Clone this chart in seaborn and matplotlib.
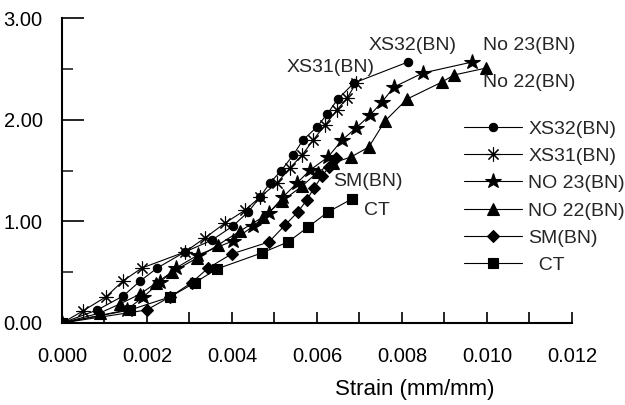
import matplotlib
matplotlib.use("Agg")
import matplotlib.pyplot as plt
import pandas as pd
import seaborn as sns
from matplotlib.ticker import MultipleLocator, FormatStrFormatter

sns.set_theme(style="ticks")
plt.rcParams["font.family"] = ["Liberation Sans", "DejaVu Sans"]

# strain (mm/mm) and stress values
xs32_strain = [0.0, 0.00083, 0.00144, 0.00184, 0.00224, 0.00289, 0.00353, 0.00402, 0.00438,
               0.00466, 0.00489, 0.00515, 0.00544, 0.00567, 0.00600, 0.00624, 0.00649,
               0.00687, 0.00814]
xs32_stress = [0.0, 0.128, 0.266, 0.413, 0.541, 0.698, 0.816, 0.954, 1.092,
               1.239, 1.377, 1.495, 1.652, 1.800, 1.928, 2.056, 2.203,
               2.361, 2.567]

xs31_strain = [0.0, 0.00049, 0.00104, 0.00144, 0.00188, 0.00289, 0.00336, 0.00384, 0.00431,
               0.00466, 0.00506, 0.00536, 0.00565, 0.00591, 0.00619, 0.00647, 0.00671,
               0.00692]
xs31_stress = [0.0, 0.118, 0.259, 0.416, 0.541, 0.698, 0.836, 0.984, 1.111,
               1.239, 1.377, 1.524, 1.652, 1.800, 1.947, 2.095, 2.213,
               2.361]

no23_strain = [0.0, 0.00152, 0.00191, 0.00231, 0.00268, 0.00320, 0.00402, 0.00450, 0.00487,
               0.00520, 0.00553, 0.00584, 0.00626, 0.00659, 0.00692, 0.00725, 0.00753,
               0.00781, 0.00849, 0.00965]
no23_stress = [0.0, 0.128, 0.256, 0.403, 0.541, 0.669, 0.807, 0.954, 1.082,
               1.239, 1.377, 1.505, 1.633, 1.800, 1.918, 2.046, 2.174,
               2.321, 2.459, 2.567]

no22_strain = [0.0, 0.00089, 0.00136, 0.00184, 0.00221, 0.00259, 0.00318, 0.00367, 0.00419,
               0.00473, 0.00518, 0.00565, 0.00602, 0.00638, 0.00680, 0.00722, 0.00760,
               0.00812, 0.00894, 0.00922, 0.00998]
no22_stress = [0.0, 0.098, 0.187, 0.285, 0.393, 0.502, 0.639, 0.767, 0.905,
               1.043, 1.200, 1.347, 1.485, 1.574, 1.633, 1.731, 1.987,
               2.203, 2.370, 2.439, 2.508]

sm_strain = [0.0, 0.00199, 0.00254, 0.00305, 0.00344, 0.00399, 0.00487, 0.00525,
             0.00555, 0.00576, 0.00593, 0.00612, 0.00628, 0.00645]
sm_stress = [0.0, 0.128, 0.256, 0.397, 0.541, 0.679, 0.797, 0.964,
             1.092, 1.210, 1.328, 1.446, 1.534, 1.623]

ct_strain = [0.0, 0.00160, 0.00254, 0.00313, 0.00364, 0.00470, 0.00532, 0.00579, 0.00626,
             0.00682]
ct_stress = [0.0, 0.128, 0.256, 0.397, 0.531, 0.689, 0.797, 0.944, 1.092,
             1.220]

series = [
    ("XS32(BN)", xs32_strain, xs32_stress, "o", 6),
    ("XS31(BN)", xs31_strain, xs31_stress, (8, 2, 0), 10),
    ("NO 23(BN)", no23_strain, no23_stress, "*", 11.5),
    ("NO 22(BN)", no22_strain, no22_stress, "^", 8),
    ("SM(BN)", sm_strain, sm_stress, "D", 6.5),
    ("  CT", ct_strain, ct_stress, "s", 7),
]

fig = plt.figure(figsize=(6.25, 4.05), dpi=100)
ax = fig.add_axes([62 / 625, 1 - 323 / 405, 510 / 625, 305 / 405])

for name, xs, ys, mk, ms in series:
    df = pd.DataFrame({"strain": xs, "stress": ys})
    sns.lineplot(data=df, x="strain", y="stress", ax=ax, sort=False, estimator=None,
                 color="black", linewidth=0.8, marker=mk, markersize=ms,
                 markeredgecolor="black", markerfacecolor="black",
                 markeredgewidth=0.8, label=name)

ax.set_xlim(0, 0.012)
ax.set_ylim(0, 3)
ax.xaxis.set_major_locator(MultipleLocator(0.002))
ax.xaxis.set_minor_locator(MultipleLocator(0.001))
ax.yaxis.set_major_locator(MultipleLocator(1.0))
ax.yaxis.set_minor_locator(MultipleLocator(0.5))
ax.xaxis.set_major_formatter(FormatStrFormatter("%.3f"))
ax.yaxis.set_major_formatter(FormatStrFormatter("%.2f"))
ax.tick_params(axis="x", which="both", direction="in", length=8, width=1.2,
               labelsize=14.5, pad=17, colors="black")
ax.tick_params(axis="y", which="major", direction="in", length=16, width=1.2,
               labelsize=14.5, pad=14, colors="black")
ax.tick_params(axis="y", which="minor", direction="in", length=8, width=1.2)

for s in ["top", "right"]:
    ax.spines[s].set_visible(False)
for s in ["left", "bottom"]:
    ax.spines[s].set_linewidth(1.5)
    ax.spines[s].set_color("black")

ax.set_ylabel("")
ax.set_xlabel("Strain (mm/mm)", fontsize=16, color="black")
ax.xaxis.set_label_coords(0.692, -0.185)

# curve labels
ax.text(0.00826, 2.73, "XS32(BN)", ha="center", va="center", fontsize=14)
ax.text(0.00633, 2.51, "XS31(BN)", ha="center", va="center", fontsize=14)
ax.text(0.00991, 2.73, "No 23(BN)", ha="left", va="center", fontsize=14)
ax.text(0.00991, 2.37, "No 22(BN)", ha="left", va="center", fontsize=14)
ax.text(0.00638, 1.39, "SM(BN)", ha="left", va="center", fontsize=14)
ax.text(0.00711, 1.11, "CT", ha="left", va="center", fontsize=14)

ax.legend(loc="upper left", bbox_to_anchor=(464 / 625, 1 - 120 / 405),
          bbox_transform=fig.transFigure, frameon=False, fontsize=14,
          handlelength=3.0, handletextpad=0.3, labelspacing=0.5,
          borderpad=0, borderaxespad=0)

fig.savefig("out.png", dpi=100)
